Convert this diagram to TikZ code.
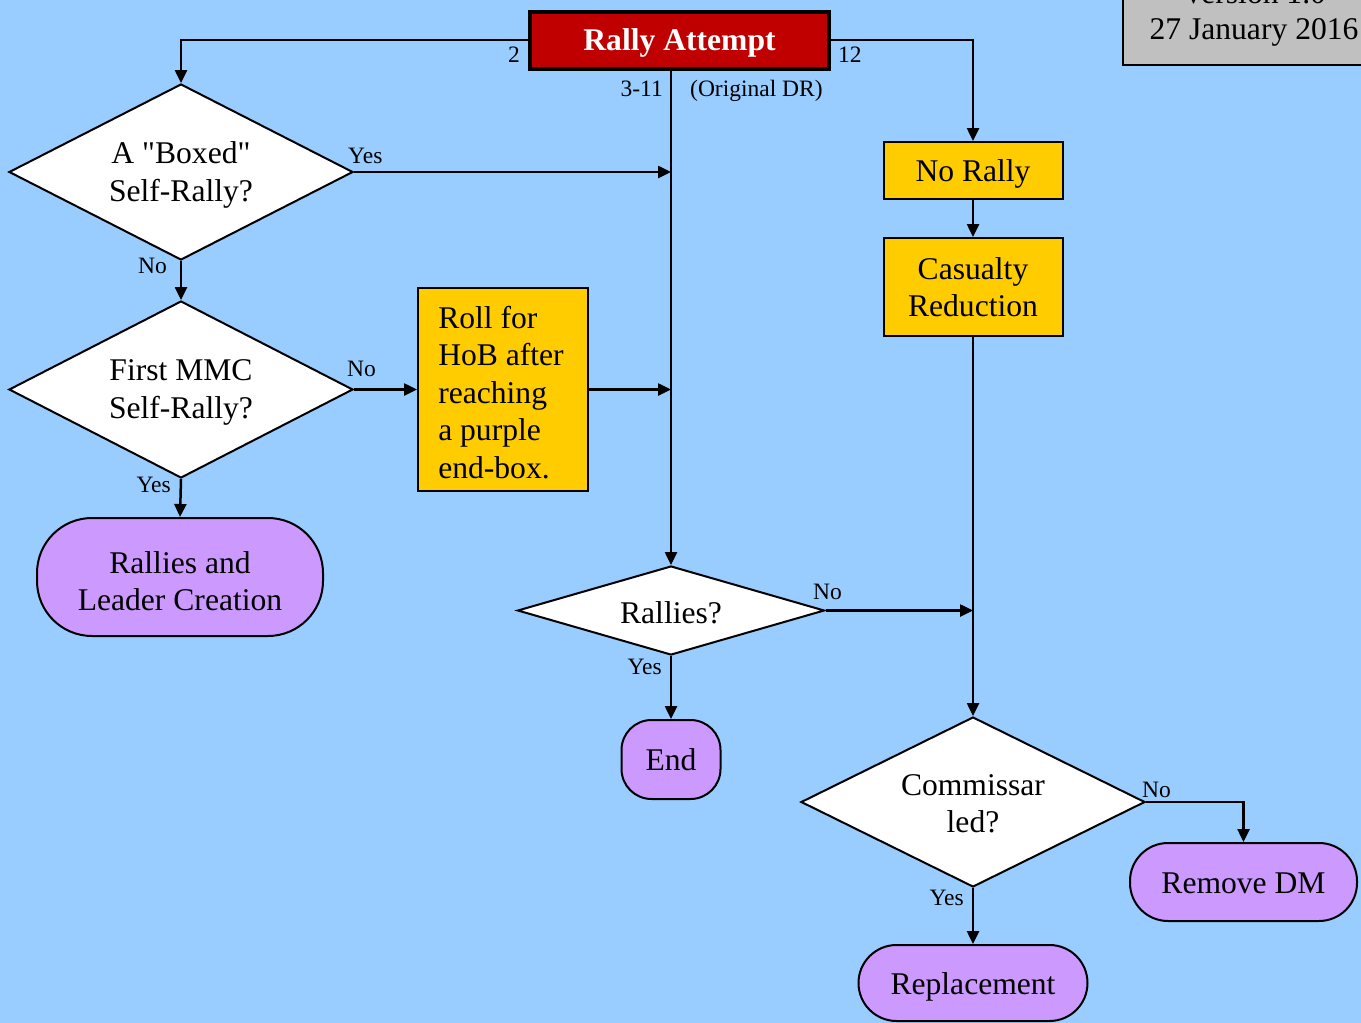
\documentclass[tikz,border=0pt]{standalone}
\usepackage{fontspec}
\setmainfont{Liberation Serif}[Ligatures=TeXOff]
\usetikzlibrary{shapes.geometric,arrows.meta}
\definecolor{bgblue}{HTML}{99CCFF}
\definecolor{ryellow}{HTML}{FFCC00}
\definecolor{rpurple}{HTML}{CC99FF}
\definecolor{rred}{HTML}{C00000}
\definecolor{rgrey}{HTML}{C0C0C0}
\tikzset{
  bigtext/.style={font=\fontsize{31.6}{37.5}\selectfont, align=center},
  txt/.style={bigtext, inner sep=0pt},
  smalltext/.style={font=\fontsize{23.5}{26}\selectfont, inner sep=0pt},
  dia/.style={diamond, draw=black, line width=2pt, fill=white, inner sep=0pt},
  ybox/.style={rectangle, draw=black, line width=2pt, fill=ryellow, inner sep=0pt},
  pbox/.style={rectangle, draw=black, line width=2pt, fill=rpurple, inner sep=0pt},
  arr/.style={line width=2.5pt, -{Triangle[length=13pt,width=12pt]}},
}
\begin{document}
\begin{tikzpicture}[x=1pt,y=-1pt]
\clip (0,0) rectangle (1361,1023);
\fill[bgblue] (0,0) rectangle (1361,1023);

% version box
\node[rectangle, draw=black, line width=2pt, fill=rgrey, anchor=north west, minimum width=260, minimum height=104, inner sep=0pt] (vbox) at (1122,-40) {};
\node[bigtext, anchor=base] (vtext1) at (1254,3) {Version 1.0};
\node[bigtext, anchor=base] (vtext2) at (1254,39) {27 January 2016};

% nodes
\node[rectangle, draw=black, line width=4pt, fill=rred, minimum width=299, minimum height=57, inner sep=0pt,
  label={[txt, text=white, font=\bfseries\fontsize{31.6}{37.5}\selectfont, yshift=-3pt]center:Rally Attempt}] (ra) at (679.5,40) {};

\node[dia, minimum width=344, minimum height=176,
  label={[txt, yshift=-3pt]center:{A "Boxed"\\Self-Rally?}}] (d1) at (181,172) {};
\node[dia, minimum width=344, minimum height=177,
  label={[txt, yshift=-3pt]center:{First MMC\\Self-Rally?}}] (d2) at (181,389.5) {};
\node[ybox, minimum width=170, minimum height=203,
  label={[txt, align=left, yshift=-3pt, xshift=-2pt]center:{Roll for\\HoB after\\reaching\\a purple\\end-box.}}] (roll) at (503,389.5) {};
\node[pbox, rounded corners=55pt, minimum width=286, minimum height=118,
  label={[txt, yshift=-4pt]center:{Rallies and\\Leader Creation}}] (rlc) at (180,577) {};
\node[dia, minimum width=307, minimum height=89,
  label={[txt, yshift=-2pt]center:Rallies?}] (rallies) at (671,610.5) {};
\node[pbox, rounded corners=30pt, minimum width=99, minimum height=79,
  label={[txt]center:End}] (end) at (671,759.5) {};
\node[ybox, minimum width=179, minimum height=57,
  label={[txt, yshift=-3pt]center:No Rally}] (norally) at (973,170.5) {};
\node[ybox, minimum width=179, minimum height=98,
  label={[txt]center:{Casualty\\Reduction}}] (casualty) at (973,287) {};
\node[dia, minimum width=344, minimum height=170,
  label={[txt, yshift=-2pt]center:{Commissar\\led?}}] (commissar) at (973,802) {};
\node[pbox, rounded corners=38pt, minimum width=227, minimum height=78,
  label={[txt, yshift=-1pt]center:Remove DM}] (removedm) at (1243.5,882) {};
\node[pbox, rounded corners=38pt, minimum width=229, minimum height=76,
  label={[txt, yshift=-4pt]center:Replacement}] (replacement) at (973,983) {};

% connectors
\draw[arr] (ra.west) -| (d1.north);
\draw[arr] (ra.east) -| (norally.north);
\draw[arr] (ra.south -| rallies.north) -- (rallies.north);
\draw[arr] (d1.east) -- (d1.east -| rallies.north);
\draw[arr] (d1.south) -- (d2.north);
\draw[arr] (d2.east) -- (roll.west);
\draw[arr] (roll.east) -- (roll.east -| rallies.north);
\draw[arr] (d2.south) -- (rlc.north);
\draw[arr] (rallies.east) -- (rallies.east -| commissar.north);
\draw[arr] (rallies.south) -- (end.north);
\draw[arr] (norally.south) -- (casualty.north);
\draw[arr] (casualty.south) -- (commissar.north);
\draw[arr] (commissar.east) -| (removedm.north);
\draw[arr] (commissar.south) -- (replacement.north);

% labels
\node[smalltext, anchor=base] (l2) at (514,62) {2};
\node[smalltext, anchor=base west] (l12) at (838,62) {12};
\node[smalltext, anchor=base east] (l311) at (663,96) {3-11};
\node[smalltext, anchor=base west] (lodr) at (690,96) {(Original DR)};
\node[smalltext, anchor=base west] (ly1) at (348,163) {Yes};
\node[smalltext, anchor=base east] (ln1) at (167,273) {No};
\node[smalltext, anchor=base west] (ln2) at (347,376) {No};
\node[smalltext, anchor=base east] (ly2) at (171,492) {Yes};
\node[smalltext, anchor=base west] (ln3) at (813,599) {No};
\node[smalltext, anchor=base east] (ly3) at (662,674) {Yes};
\node[smalltext, anchor=base west] (ln4) at (1142,797) {No};
\node[smalltext, anchor=base east] (ly4) at (964,905) {Yes};
\end{tikzpicture}
\end{document}
